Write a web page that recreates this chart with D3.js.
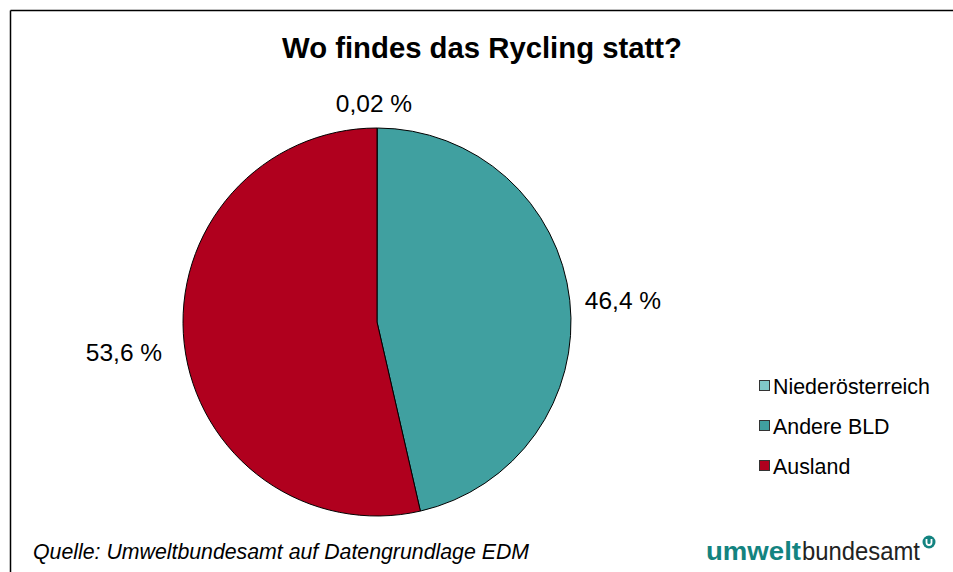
<!DOCTYPE html>
<html>
<head>
<meta charset="utf-8">
<script src="https://cdn.jsdelivr.net/npm/d3@7"></script>
<style>
 html, body { margin: 0; padding: 0; background: #fff; overflow: hidden; width: 953px; height: 572px; }
 svg { display: block; }
 text { font-family: "Liberation Sans", Arial, sans-serif; }
</style>
</head>
<body>
<script>
const width = 953;
const height = 572;

// data
var categories = ["Niederösterreich", "Andere BLD", "Ausland"];
var values = [0.02, 46.4, 53.6];
var labels = ["0,02 %", "46,4 %", "53,6 %"];
var colors = ["#80C8C8", "#40A0A0", "#B0001E"];

var svg = d3.select("body")
 .append("svg")
 .attr("width", width)
 .attr("height", height);

// frame: only the top and left edges are visible
svg.append("line")
 .attr("x1", 10.5).attr("y1", 10.5)
 .attr("x2", width + 5).attr("y2", 10.5)
 .attr("stroke", "#000")
 .attr("stroke-width", 1.5);
svg.append("line")
 .attr("x1", 10.5).attr("y1", 10.5)
 .attr("x2", 10.5).attr("y2", height + 5)
 .attr("stroke", "#000")
 .attr("stroke-width", 1.5);

// title
svg.append("text")
 .attr("x", 482)
 .attr("y", 58)
 .attr("text-anchor", "middle")
 .attr("font-size", 29.3)
 .attr("font-weight", "bold")
 .text("Wo findes das Rycling statt?");

// pie
var cx = 377, cy = 322, r = 194;

var pie = d3.pie().sort(null).value(d => d);
var arcs = pie(values);
var arc = d3.arc().innerRadius(0).outerRadius(r);

var g = svg.append("g")
 .attr("transform", "translate(" + cx + "," + cy + ")");

g.selectAll("path")
 .data(arcs)
 .enter()
 .append("path")
 .attr("d", arc)
 .attr("fill", (d, i) => colors[i])
 .attr("stroke", "#000")
 .attr("stroke-width", 1);

// value labels placed outside the pie
var labelPos = [[374, 112], [623, 309], [124, 361]];

svg.selectAll("text.val")
 .data(arcs)
 .enter()
 .append("text")
 .attr("class", "val")
 .attr("x", (d, i) => labelPos[i][0])
 .attr("y", (d, i) => labelPos[i][1])
 .attr("text-anchor", "middle")
 .attr("font-size", 24.5)
 .text((d, i) => labels[i]);

// legend
var legend = svg.append("g")
 .attr("transform", "translate(759, 386)");

var item = legend.selectAll("g")
 .data(categories)
 .enter()
 .append("g")
 .attr("transform", (d, i) => "translate(0," + i * 40 + ")");

item.append("rect")
 .attr("x", 0.5)
 .attr("y", -5.5)
 .attr("width", 10)
 .attr("height", 10)
 .attr("fill", (d, i) => colors[i])
 .attr("stroke", "#333")
 .attr("stroke-width", 1);

item.append("text")
 .attr("x", 14)
 .attr("y", 7.5)
 .attr("font-size", 21.4)
 .text(d => d);

// source
svg.append("text")
 .attr("x", 33)
 .attr("y", 558.5)
 .attr("font-size", 21.3)
 .attr("font-style", "italic")
 .text("Quelle: Umweltbundesamt auf Datengrundlage EDM");

// logo
svg.append("text")
 .attr("x", 706)
 .attr("y", 560)
 .attr("font-size", 26)
 .attr("font-family", "'Open Sans', sans-serif")
 .attr("font-weight", "bold")
 .attr("fill", "#138380")
 .attr("textLength", 95)
 .attr("lengthAdjust", "spacingAndGlyphs")
 .text("umwelt");
svg.append("text")
 .attr("x", 802)
 .attr("y", 560)
 .attr("font-size", 26)
 .attr("font-family", "'DejaVu Serif', serif")
 .attr("fill", "#222")
 .attr("textLength", 118)
 .attr("lengthAdjust", "spacingAndGlyphs")
 .text("bundesamt");

svg.append("circle")
 .attr("cx", 929)
 .attr("cy", 542)
 .attr("r", 6.5)
 .attr("fill", "#138380");
svg.append("path")
 .attr("d", "M926.5,539v3.5a2.5,2.5 0 0 0 5,0v-3.5")
 .attr("fill", "none")
 .attr("stroke", "#fff")
 .attr("stroke-width", 1.8);
</script>
</body>
</html>
